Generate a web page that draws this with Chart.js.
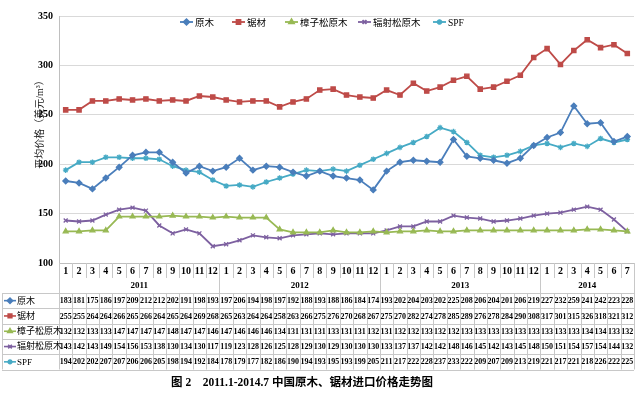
<!DOCTYPE html>
<html>
<head>
<meta charset="utf-8">
<script src="https://cdn.jsdelivr.net/npm/chart.js@4/dist/chart.umd.min.js"></script>
<style>
  html, body { margin: 0; padding: 0; background: #fff; }
  #wrap { width: 640px; height: 396px; position: relative; }
</style>
</head>
<body>
<div id="wrap"><canvas id="chart"></canvas></div>
<script>
const months = ['1','2','3','4','5','6','7','8','9','10','11','12',
                '1','2','3','4','5','6','7','8','9','10','11','12',
                '1','2','3','4','5','6','7','8','9','10','11','12',
                '1','2','3','4','5','6','7'];
const years = ['2011', '2012', '2013', '2014'];
const yearSpan = [12, 12, 12, 7];

const logs = [183,181,175,186,197,209,212,212,202,191,198,193,
              197,206,194,198,197,192,188,193,188,186,184,174,
              193,202,204,203,202,225,208,206,204,201,206,219,
              227,232,259,241,242,223,228];
const lumber = [255,255,264,264,266,265,266,264,265,264,269,268,
                265,263,264,264,258,263,266,275,276,270,268,267,
                275,270,282,274,278,285,289,276,278,284,290,308,
                317,301,315,326,318,321,312];
const scotsPine = [132,132,133,133,147,147,147,147,148,147,147,146,
                   147,146,146,146,134,131,131,131,133,131,131,132,
                   131,132,132,133,132,132,133,133,133,133,133,133,
                   133,133,133,134,134,133,132];
const radiataPine = [143,142,143,149,154,156,153,138,130,134,130,117,
                     119,123,128,126,125,128,129,130,129,130,130,130,
                     133,137,137,142,142,148,146,145,142,143,145,148,
                     150,151,154,157,154,144,132];
const spf = [194,202,202,207,207,206,206,205,198,194,192,184,
             178,179,177,182,186,190,194,193,195,193,199,205,
             211,217,222,228,237,233,222,209,207,209,213,219,
             221,217,221,218,226,222,225];

const seriesNames = ['原木', '锯材', '樟子松原木', '辐射松原木', 'SPF'];
const seriesColors = ['#4a7ebb', '#be4b48', '#98b954', '#7d60a0', '#46aac5'];
const seriesMarkers = ['rectRot', 'rect', 'triangle', 'crossRot', 'star'];
const seriesData = [logs, lumber, scotsPine, radiataPine, spf];

const serif = "'Liberation Serif', 'Noto Sans CJK SC', serif";
const gridColor = '#d9d9d9';
const tableLine = '#c8c8c8';

function drawMarker(ctx, style, x, y, r) {
  Chart.helpers.drawPoint(ctx, {
    pointStyle: style, radius: r, borderWidth: 1.3, rotation: 0
  }, x, y);
}

// legend inside the plot area + the data table under it
const tablePlugin = {
  id: 'dataTable',
  afterDraw(chart) {
    const { ctx, chartArea: area } = chart;
    const xs = chart.scales.x;
    const step = xs.getPixelForValue(1) - xs.getPixelForValue(0);
    const tLeft = 2;
    const tRight = xs.getPixelForValue(months.length - 1) + step / 2;
    const monthTop = area.bottom;
    const yearMid = 286;
    const dataTop = 293;
    const rowH = 15.3;

    ctx.save();
    const sets = chart.data.datasets;

    // legend
    const legendX = [180, 232, 285, 358, 433];
    const legendY = 22;
    sets.forEach((ds, i) => {
      const lx = legendX[i];
      ctx.strokeStyle = ds.borderColor;
      ctx.fillStyle = ds.borderColor;
      ctx.lineWidth = 1.8;
      ctx.beginPath();
      ctx.moveTo(lx, legendY); ctx.lineTo(lx + 13, legendY); ctx.stroke();
      drawMarker(ctx, ds.pointStyle, lx + 6.5, legendY, 2.8);
      ctx.fillStyle = '#000';
      ctx.font = '9.5px ' + serif;
      ctx.textAlign = 'left';
      ctx.textBaseline = 'middle';
      ctx.fillText(ds.label, lx + 15, legendY + 1);
    });

    // y axis title
    ctx.save();
    ctx.translate(40, 122);
    ctx.rotate(-Math.PI / 2);
    ctx.fillStyle = '#222';
    ctx.font = '10px ' + serif;
    ctx.textAlign = 'center';
    ctx.textBaseline = 'middle';
    ctx.fillText('平均价格（美元/m³）', 0, 0);
    ctx.restore();

    ctx.strokeStyle = tableLine;
    ctx.lineWidth = 1;

    // month row
    ctx.fillStyle = '#000';
    ctx.font = 'bold 10px ' + serif;
    ctx.textAlign = 'center';
    ctx.textBaseline = 'middle';
    months.forEach((m, i) => {
      const cx = xs.getPixelForValue(i);
      ctx.fillText(m, cx, monthTop + 8);
      ctx.beginPath();
      ctx.moveTo(Math.round(cx - step / 2) + 0.5, monthTop);
      ctx.lineTo(Math.round(cx - step / 2) + 0.5, monthTop + 15);
      ctx.stroke();
    });

    // year row
    ctx.font = 'bold 9px ' + serif;
    let start = 0;
    years.forEach((yr, k) => {
      const a = xs.getPixelForValue(start) - step / 2;
      const b = xs.getPixelForValue(start + yearSpan[k] - 1) + step / 2;
      ctx.fillText(yr, (a + b) / 2, yearMid);
      ctx.beginPath();
      ctx.moveTo(Math.round(a) + 0.5, monthTop);
      ctx.lineTo(Math.round(a) + 0.5, dataTop);
      ctx.moveTo(Math.round(b) + 0.5, monthTop);
      ctx.lineTo(Math.round(b) + 0.5, dataTop);
      ctx.stroke();
      start += yearSpan[k];
    });

    // data table grid
    ctx.beginPath();
    for (let r = 0; r <= sets.length; r++) {
      const y = Math.round(dataTop + r * rowH) + 0.5;
      ctx.moveTo(tLeft, y); ctx.lineTo(tRight, y);
    }
    ctx.moveTo(tLeft + 0.5, dataTop); ctx.lineTo(tLeft + 0.5, dataTop + sets.length * rowH);
    for (let i = 0; i <= months.length; i++) {
      const x = Math.round(xs.getPixelForValue(i) - step / 2) + 0.5;
      ctx.moveTo(x, dataTop); ctx.lineTo(x, dataTop + sets.length * rowH);
    }
    ctx.stroke();

    // data rows
    sets.forEach((ds, r) => {
      const cy = dataTop + r * rowH + rowH / 2;
      ctx.strokeStyle = ds.borderColor;
      ctx.fillStyle = ds.borderColor;
      ctx.lineWidth = 1.6;
      ctx.beginPath();
      ctx.moveTo(4, cy); ctx.lineTo(16, cy); ctx.stroke();
      drawMarker(ctx, ds.pointStyle, 10, cy, 2.6);
      ctx.fillStyle = '#000';
      ctx.font = '9px ' + serif;
      ctx.textAlign = 'left';
      ctx.fillText(ds.label, 17, cy + 0.5);
      ctx.font = 'bold 8px ' + serif;
      ctx.textAlign = 'center';
      ds.data.forEach((v, i) => {
        ctx.fillText(String(v), xs.getPixelForValue(i), cy + 0.5);
      });
    });

    // caption
    ctx.fillStyle = '#000';
    ctx.font = 'bold 11.5px ' + serif;
    ctx.textAlign = 'center';
    ctx.fillText('图 2    2011.1-2014.7 中国原木、锯材进口价格走势图', 302, 383);
    ctx.restore();
  }
};

new Chart(document.getElementById('chart'), {
  type: 'line',
  data: {
    labels: months,
    datasets: seriesNames.map((name, i) => ({
      label: name,
      data: seriesData[i],
      borderColor: seriesColors[i],
      backgroundColor: seriesColors[i],
      pointStyle: seriesMarkers[i],
      pointRadius: i === 1 ? 3 : 2.8,
      pointBorderWidth: 1.3,
      borderWidth: 1.8,
      tension: 0,
      fill: false
    }))
  },
  options: {
    animation: false,
    responsive: true,
    maintainAspectRatio: false,
    layout: { padding: { top: 16, right: 6, bottom: 133, left: 0 } },
    plugins: {
      legend: { display: false },
      tooltip: { enabled: false }
    },
    scales: {
      x: {
        offset: true,
        grid: { display: false, drawTicks: false },
        border: { display: true, color: '#bfbfbf' },
        ticks: { display: false },
        afterFit: s => { s.height = 0; }
      },
      y: {
        min: 100,
        max: 350,
        ticks: {
          stepSize: 50,
          padding: 6,
          color: '#000',
          font: { family: serif, size: 10, weight: 'bold' }
        },
        grid: { color: gridColor, drawTicks: false },
        border: { display: true, color: '#bfbfbf' },
        afterFit: s => { s.width = 59; }
      }
    }
  },
  plugins: [tablePlugin]
});
</script>
</body>
</html>
